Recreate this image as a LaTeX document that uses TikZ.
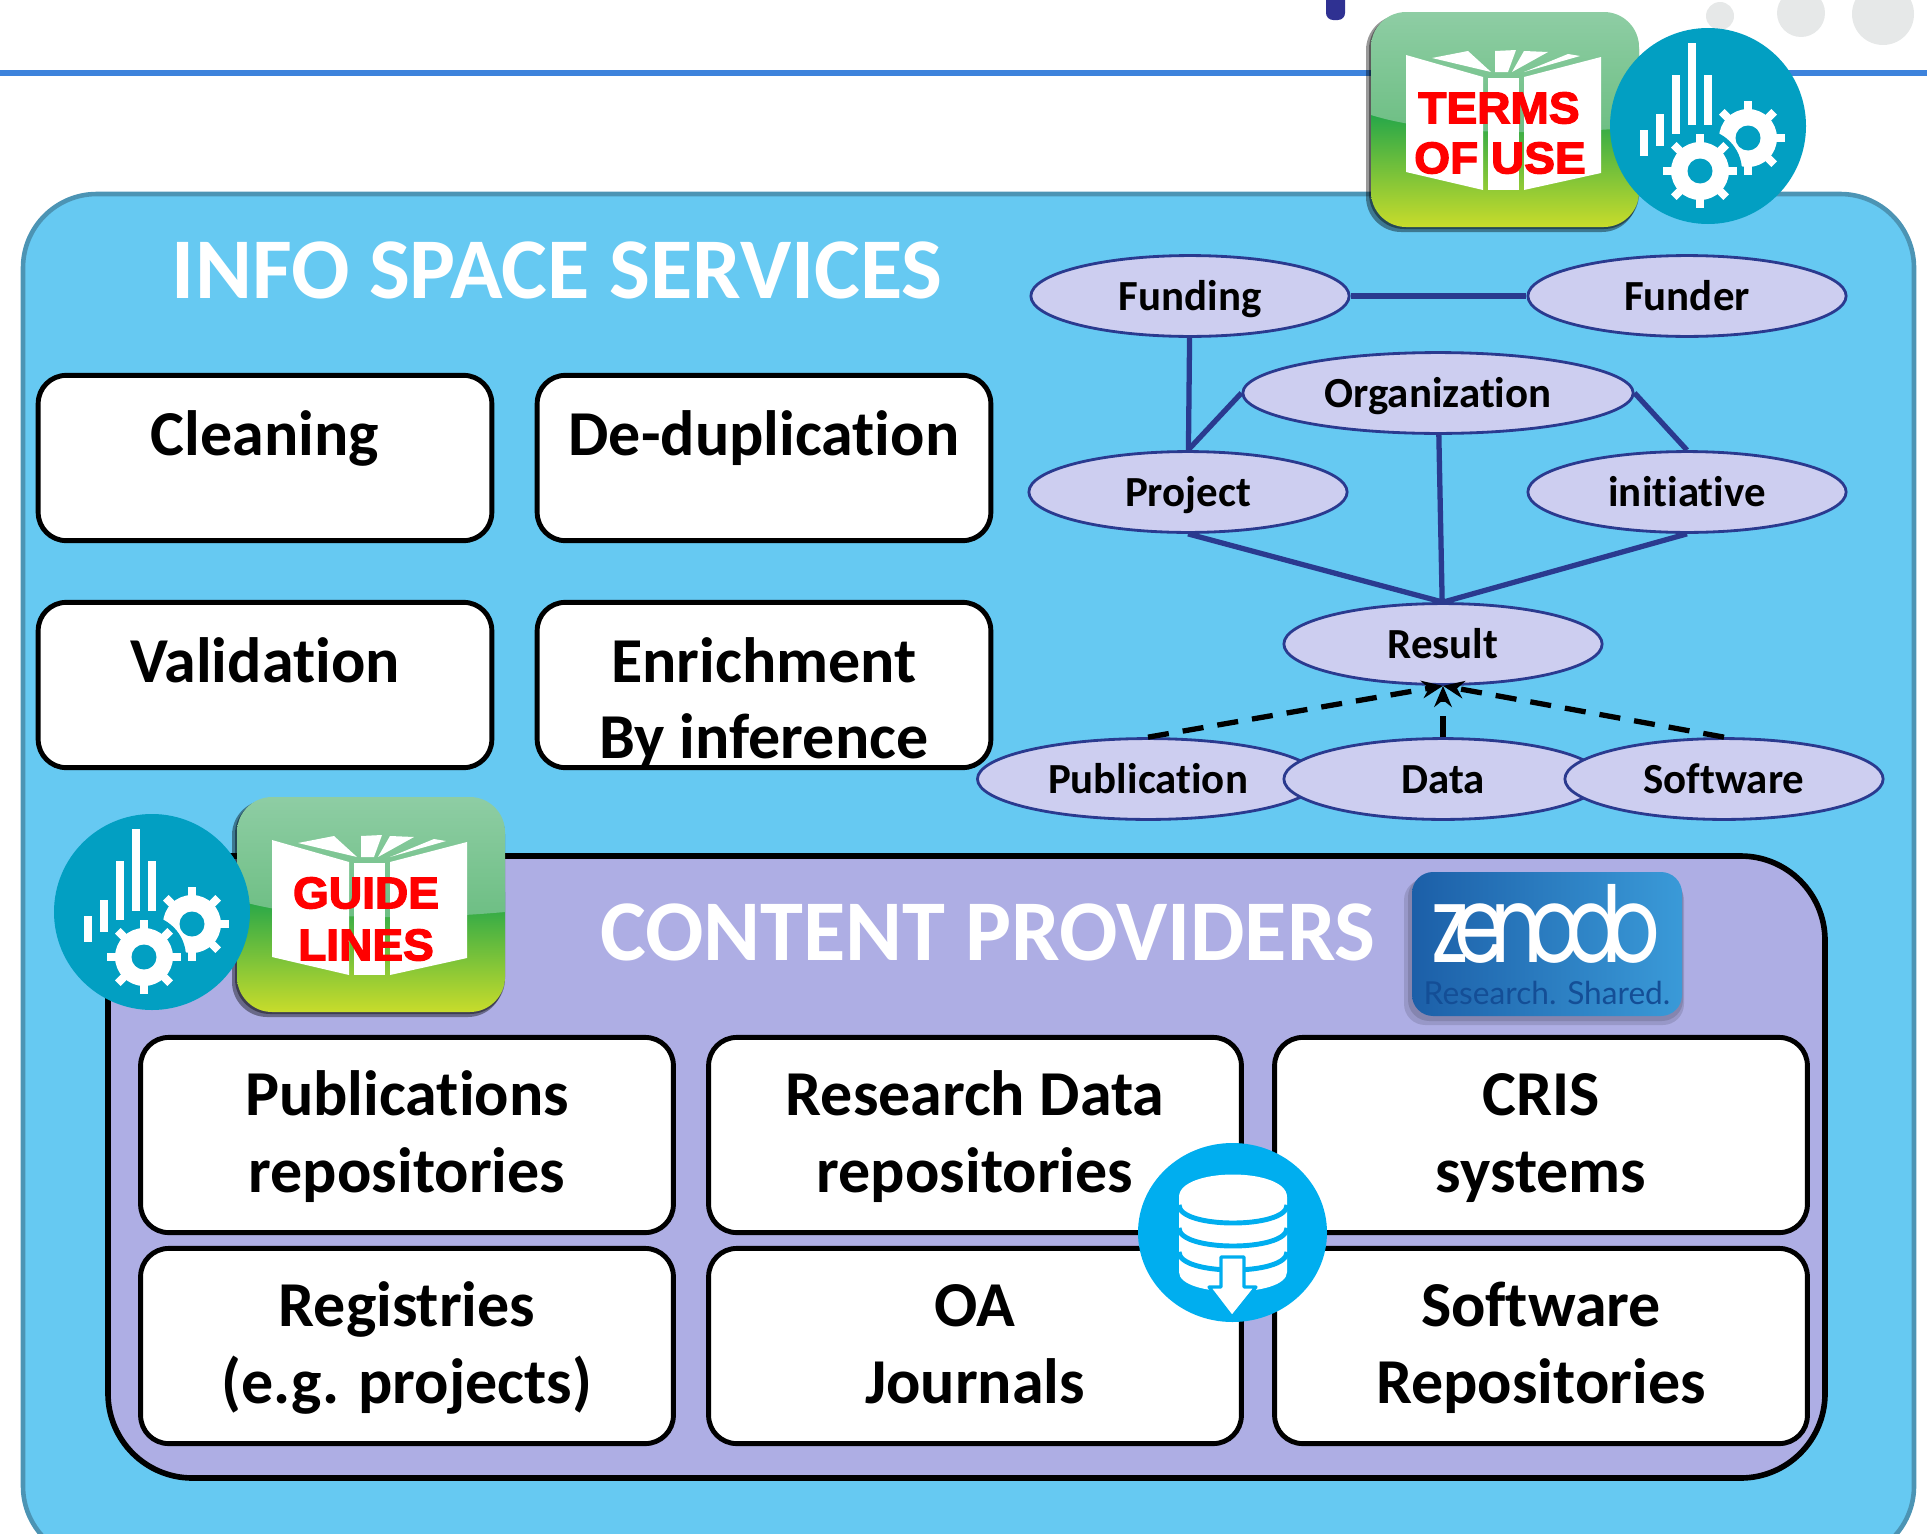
\documentclass[tikz,border=0pt]{standalone}
\usepackage{fontspec}
\setmainfont{Carlito}[Ligatures=NoCommon]
\newfontfamily\iconfont{Liberation Sans}[FakeBold=3,FakeStretch=1.04]
\newfontfamily\logofont{Poppins}[FakeStretch=.78,LetterSpace=-14]
\newfontfamily\slogfont{Lato}
\usetikzlibrary{calc,arrows.meta,shapes.geometric}

\definecolor{outerfill}{RGB}{102,201,242}
\definecolor{outerline}{RGB}{76,148,180}
\definecolor{innerfill}{RGB}{174,174,228}
\definecolor{entityfill}{RGB}{205,206,240}
\definecolor{entityline}{RGB}{42,58,143}
\definecolor{gearblue}{RGB}{2,159,194}
\definecolor{dbblue}{RGB}{0,174,239}
\definecolor{ruleblue}{RGB}{61,131,220}
\definecolor{dotgray}{RGB}{230,232,232}
\definecolor{tabblue}{RGB}{47,49,146}
\definecolor{logoleft}{RGB}{28,95,168}
\definecolor{logoright}{RGB}{58,154,216}
\definecolor{logotext}{RGB}{20,78,150}

% Box lines sit low in the box
\newcommand{\lowpair}[2]{\rule{0pt}{20.1pt}#1\\\smash{#2}}
\newcommand{\midpair}[2]{\rule{0pt}{17.5pt}#1\\#2\strut}

\tikzset{
  titletext/.style={text=white,font=\fontsize{24.6}{30}\selectfont\bfseries},
  infobox/.style={draw=black,fill=white,line width=1.4pt,rounded corners=8pt,
    align=center,inner sep=0pt,font=\fontsize{18.2}{21.8}\selectfont\bfseries},
  toprow/.style={infobox,minimum width=129pt,minimum height=47pt},
  botrow/.style={infobox,minimum width=151.5pt,minimum height=55.5pt},
  entity/.style={ellipse,draw=entityline,fill=entityfill,line width=.8pt,inner sep=0pt,
    minimum width=90.5pt,minimum height=23pt,text height=8.3pt,text depth=0pt,
    font=\fontsize{12.2}{14}\selectfont\bfseries},
  rel/.style={entityline,line width=1.5pt},
  isa/.style={black,line width=1.5pt,dashed,dash pattern=on 6pt off 4pt,-{Stealth[length=6pt,width=5pt]}},
  icontext/.style={text=red,inner sep=0pt,font=\fontsize{12.6}{15}\selectfont\iconfont\bfseries},
  bookicon/.pic={
    % Shadow
    \fill[black,opacity=.4] (-5,3) [rounded corners=10pt] rectangle (266,220);
    \fill[black,opacity=.4] (-2,2) [rounded corners=10pt] rectangle (268,217);
    \begin{scope}
      \clip[rounded corners=10pt] (0,0) rectangle (268,215);
      \shade[top color={rgb,255:red,27;green,163;blue,75},middle color={rgb,255:red,130;green,196;blue,66},
        bottom color={rgb,255:red,200;green,220;blue,43}] (0,95) rectangle (268,215);
      \shade[top color={rgb,255:red,142;green,205;blue,164},bottom color={rgb,255:red,108;green,190;blue,130}]
        (0,0) -- (268,0) -- (268,115) .. controls (190,122) and (70,125) .. (0,103) -- cycle;
    \end{scope}
    % Pages
    \fill[white] (35,43) -- (112,65) -- (112,178) -- (35,160) -- cycle;
    \fill[white] (117,66) -- (148,66) -- (148,178) -- (117,178) -- cycle;
    \fill[white] (153,65) -- (230,45) -- (230,161) -- (153,178) -- cycle;
    \fill[white] (61,46) -- (97,39) -- (120,60) -- cycle;
    \fill[white] (124,39) -- (145,38) -- (137,60) -- (124,60) -- cycle;
    \fill[white] (153,39) -- (177,40) -- (141,60) -- cycle;
    \fill[white] (197,42) -- (209,44) -- (153,60) -- cycle;
  },
  geartool/.pic={
    \foreach \a in {0,45,90,135}{
      \fill[white,rotate=\a] (-4,-37) rectangle (4,37);
    }
    \fill[white] (0,0) circle (29);
    \fill[gearblue] (0,0) circle (12.5);
  },
  gearicon/.pic={
    \fill[gearblue] (0,0) circle (98);
    % Bars
    \foreach \xa/\ya/\yb in {-68/4/30,-52/-12/20,-36/-51/8,-20/-83/-1,-4/-51/-1}{
      \fill[white] (\xa,\ya) rectangle ({\xa+8},\yb);
    }
    \pic at (40,12) {geartool};
    \fill[gearblue] (-8,45) circle (42);
    \pic at (-8,45) {geartool};
  }
}

\begin{document}
\begin{tikzpicture}[x=.01cm,y=-.01cm,>=Stealth]
\clip (0,0) rectangle (1927,1533);

% Page header
\fill[ruleblue] (0,70) rectangle (1927,76);
\fill[dotgray] (1720,16) circle (14);
\fill[dotgray] (1801,13) circle (24);
\fill[dotgray] (1883,14) circle (31);
\fill[tabblue,rounded corners=2pt] (1326,-10) rectangle (1345,20);

% Services panel
\draw[outerline,fill=outerfill,line width=1.3pt,rounded corners=21pt] (23,194) rectangle (1914,1560);
\node[titletext] (infotitle) at (557,270) {INFO SPACE SERVICES};

\node[toprow] (cleaning) at (265,458) {\lowpair{Cleaning}{}};
\node[toprow] (dedup) at (764,458) {\lowpair{De-duplication}{}};
\node[toprow] (validation) at (265,685) {\lowpair{Validation}{}};
\node[toprow] (enrichment) at (764,685) {\lowpair{Enrichment}{By inference}};

% Entity graph
\node[entity] (funding) at (1190,296) {Funding};
\node[entity] (funder) at (1687,296) {Funder};
\node[entity,minimum width=111pt] (organization) at (1438,393) {Organization};
\node[entity] (project) at (1188,492) {Project};
\node[entity] (initiative) at (1687,492) {initiative};
\node[entity] (result) at (1443,644) {Result};
\node[entity,minimum width=97pt] (publication) at (1148,779) {Publication};
\node[entity] (data) at (1443,779) {Data};
\node[entity] (software) at (1724,779) {Software};

\draw[rel] (funding) -- (funder);
\draw[rel] (funding) -- (project);
\draw[rel] (project.north) -- (organization.west);
\draw[rel] (organization.east) -- (initiative.north);
\draw[rel] (organization) -- (result);
\draw[rel] (project.south) -- (result.north);
\draw[rel] (initiative.south) -- (result.north);
\foreach \X in {publication,data,software}{
  \draw[isa] (\X.north) -- (result.south);
}

% Providers panel
\draw[black,fill=innerfill,line width=1.6pt,rounded corners=24pt] (108,856) rectangle (1825,1478);
\node[titletext] (contenttitle) at (988,932) {CONTENT PROVIDERS};

\node[botrow] (pubrepo) at (407,1135) {\midpair{Publications}{repositories}};
\node[botrow] (datarepo) at (975,1135) {\midpair{Research Data}{repositories}};
\node[botrow] (cris) at (1541,1135) {\midpair{CRIS}{systems}};
\node[botrow] (registries) at (407,1346) {\midpair{Registries}{(e.g. projects)}};
\node[botrow] (journals) at (975,1346) {\midpair{OA}{Journals}};
\node[botrow] (softrepo) at (1541,1346) {\midpair{Software}{Repositories}};

% Zenodo logo
\fill[black,opacity=.12] (1404,879) [rounded corners=6pt] rectangle (1684,1025);
\fill[black,opacity=.12] (1408,876) [rounded corners=6pt] rectangle (1683,1021);
\shade[rounded corners=6pt,left color=logoleft,right color=logoright] (1412,872) rectangle (1682,1016);
\node[anchor=base,text=white,inner sep=0pt,font=\fontsize{30}{30}\selectfont\logofont] (zenodo) at (1546,962) {zenodo};
\node[text=logotext,inner sep=0pt,font=\fontsize{9}{10}\selectfont\slogfont] (shared) at (1547,993) {Research. Shared.};

% Database badge
\fill[dbblue] (1232.5,1232.5) circle [x radius=94.5,y radius=89.5];
\fill[white] (1179,1197) .. controls (1179,1167) and (1287,1167) .. (1287,1197)
  -- (1287,1272) .. controls (1287,1298) and (1179,1298) .. (1179,1272) -- cycle;
\foreach \y in {1205,1228,1252}{
  \draw[dbblue,line width=1.4pt] (1179,\y) .. controls (1179,{\y+24}) and (1287,{\y+24}) .. (1287,\y);
}
\draw[dbblue,fill=white,line width=.9pt,line join=round] (1221,1257) -- (1244,1257) -- (1244,1287) -- (1256,1287)
  -- (1232,1317) -- (1209,1287) -- (1221,1287) -- cycle;

% Terms badge
\pic at (1371,12) {bookicon};
\node[icontext] (terms) at (1499,108) {TERMS};
\node[icontext] (ofuse) at (1500,158) {OF USE};
\pic at (1708,126) {gearicon};

% Guide badge
\pic at (237,797) {bookicon};
\node[icontext] (guide) at (366,893) {GUIDE};
\node[icontext] (lines) at (366,945) {LINES};
\pic at (152,912) {gearicon};
\end{tikzpicture}
\end{document}
